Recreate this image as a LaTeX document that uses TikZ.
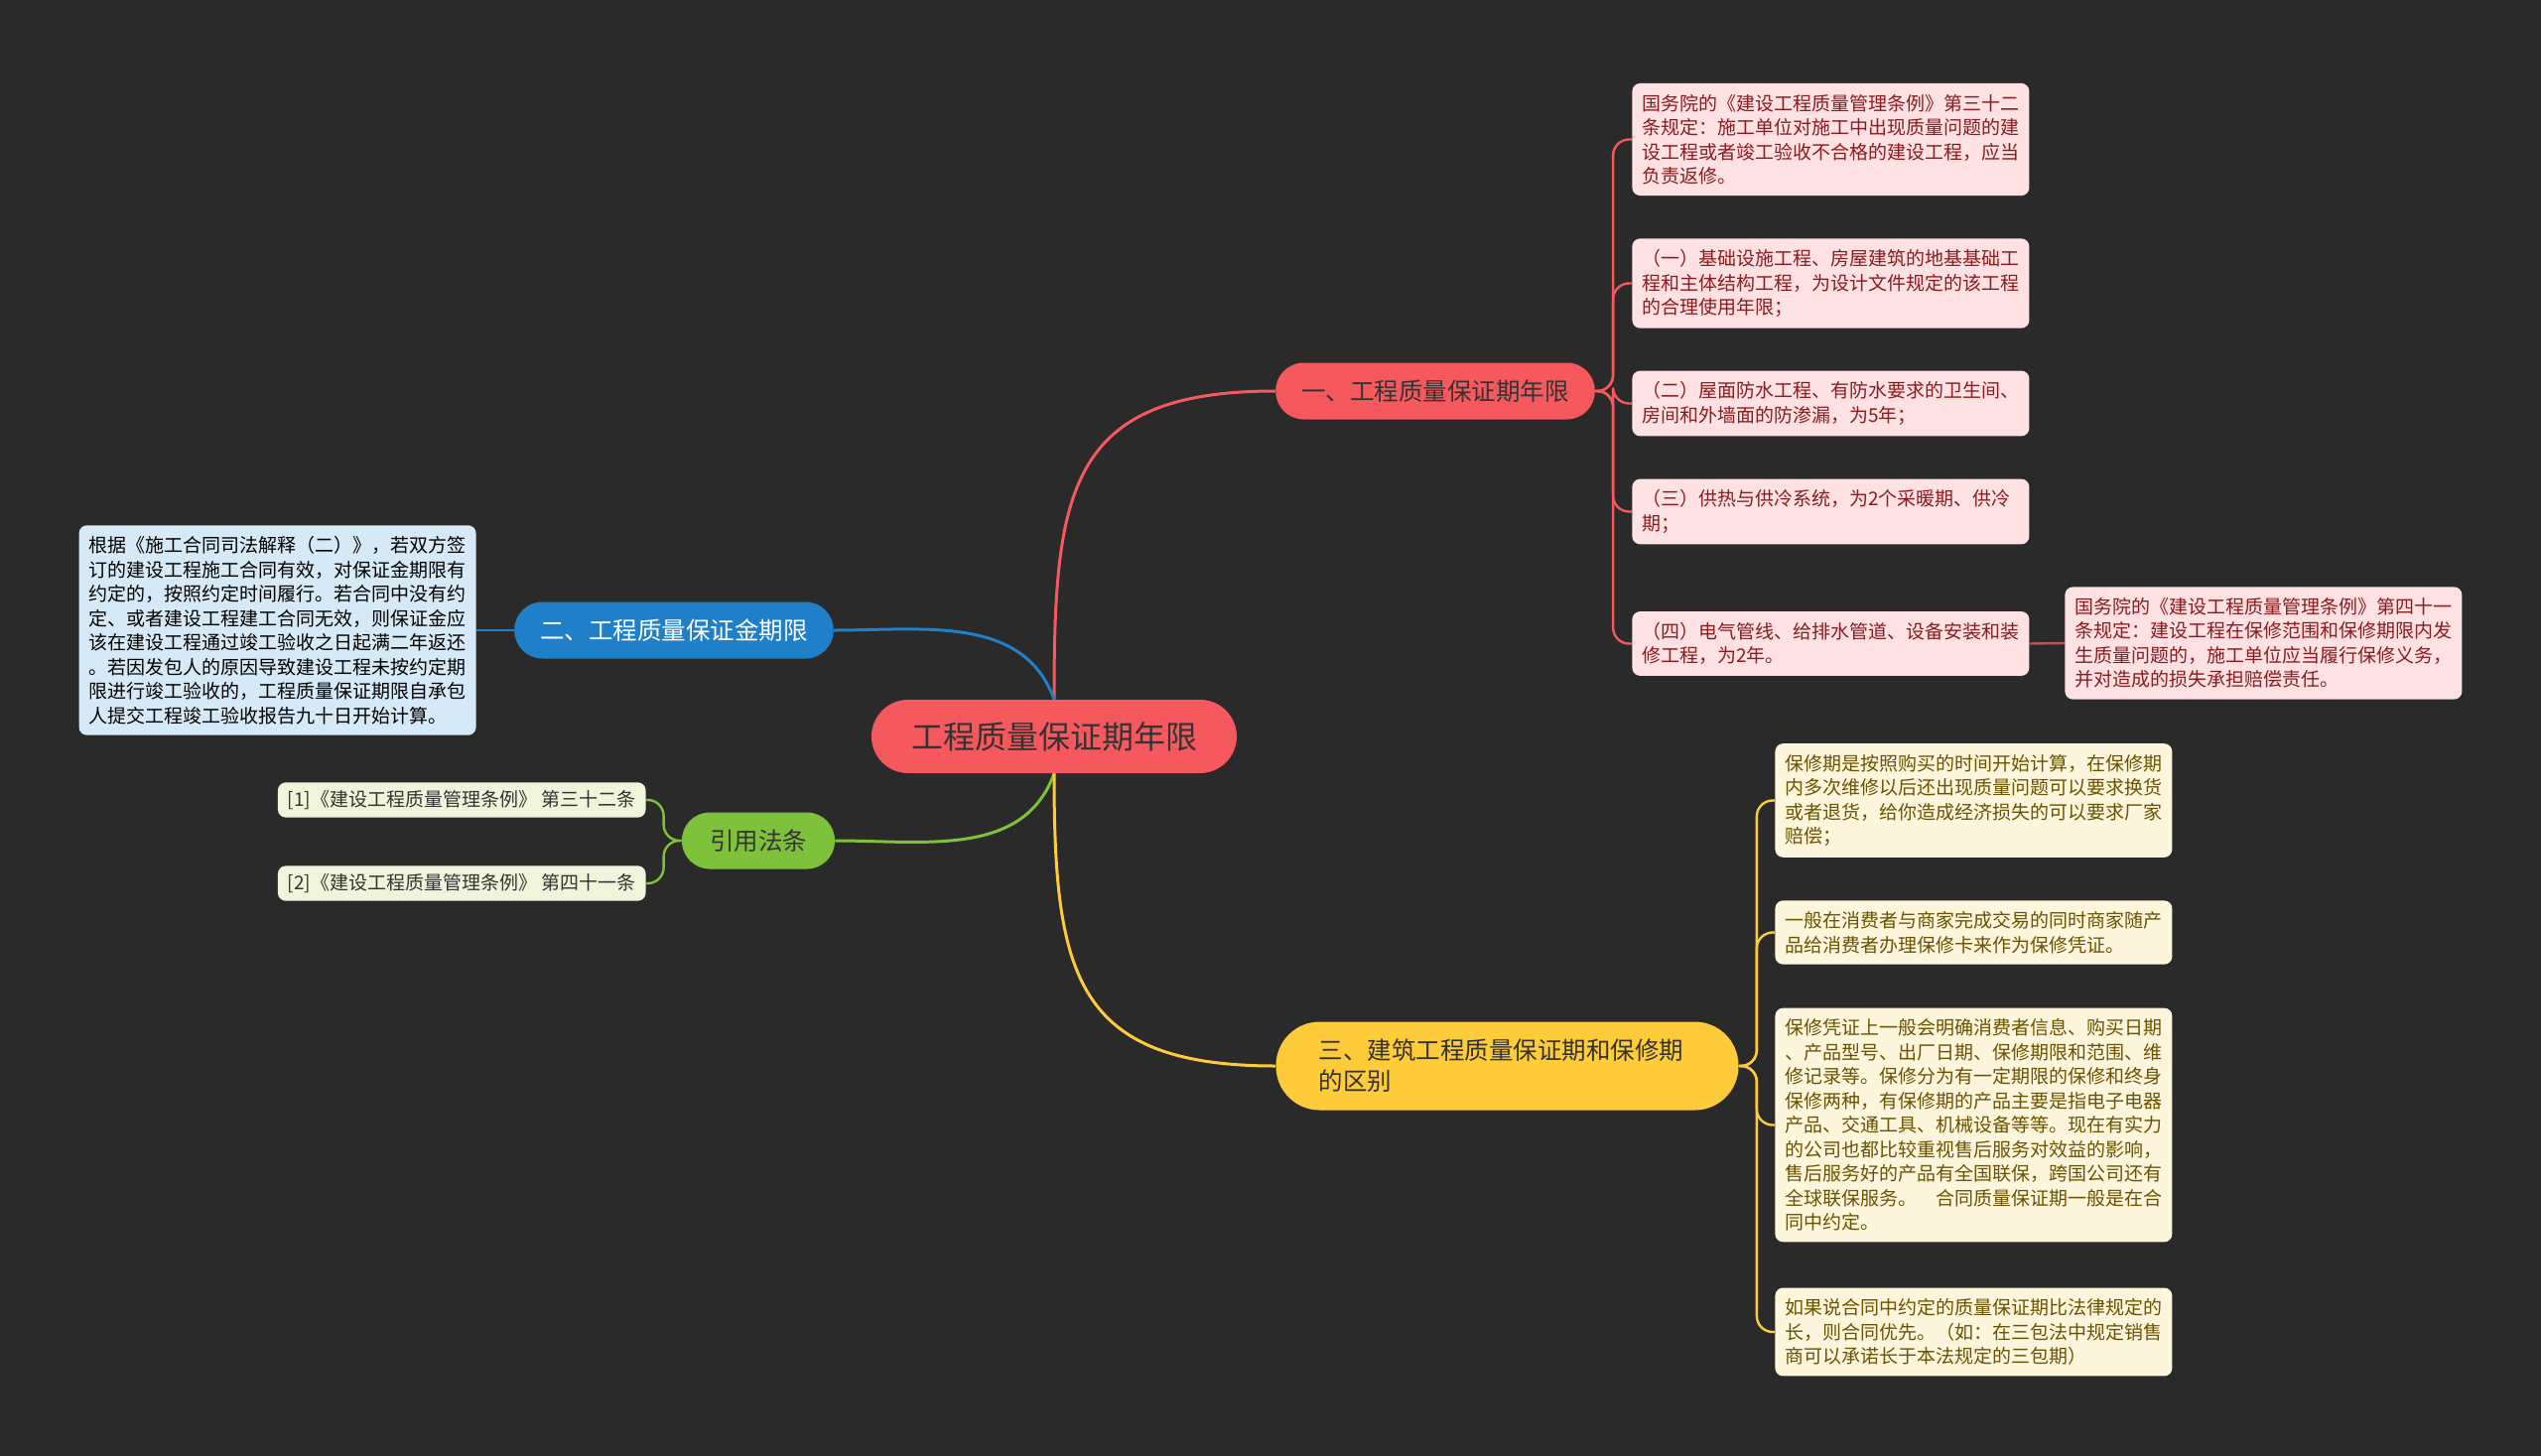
\documentclass[tikz,border=0pt]{standalone}
\usepackage{fontspec}
\setmainfont{Noto Sans CJK SC}
\usepackage{tikz}
\usetikzlibrary{positioning}

\definecolor{bgdark}{HTML}{2A2A2A}
\definecolor{redmain}{HTML}{F5585D}
\definecolor{pinkfill}{HTML}{FDE1E3}
\definecolor{pinktext}{HTML}{8A1B1E}
\definecolor{bluemain}{HTML}{1F7FC8}
\definecolor{bluefill}{HTML}{D6E9F7}
\definecolor{greenmain}{HTML}{7DC23A}
\definecolor{greenfill}{HTML}{EEF5DA}
\definecolor{yellowmain}{HTML}{FECB3A}
\definecolor{yellowfill}{HTML}{FDF6DD}
\definecolor{yellowtext}{HTML}{6B5200}
\definecolor{darktext}{HTML}{333333}

\begin{document}
\begin{tikzpicture}[x=0.5pt, y=-0.5pt,
			rootnode/.style={fill=redmain, text=darktext, rounded corners=18.5pt,
				minimum height=37pt, inner xsep=20pt, font=\fontsize{16}{20}\selectfont},
			branch/.style={rounded corners=14pt, minimum height=28.5pt, inner xsep=13pt,
				font=\fontsize{12.25}{15.5}\selectfont},
			leaf/.style={rounded corners=4pt, text width=190pt, align=left,
				inner xsep=5pt, inner ysep=5.5pt, font=\fontsize{9.5}{12.25}\selectfont},
			redleaf/.style={leaf, fill=pinkfill, text=pinktext},
			yellowleaf/.style={leaf, fill=yellowfill, text=yellowtext},
			link/.style={line width=1.5pt},
			twig/.style={line width=1.2pt, rounded corners=8pt}]
			
			\useasboundingbox (0,0) rectangle (2560,1467);
			\fill[bgdark] (0,0) rectangle (2560,1467);
			
			% centre and main branches
			\node[rootnode] (root) at (1062,742) {工程质量保证期年限};
			\node[branch, fill=redmain, text=darktext] (b1) at (1446,394) {一、工程质量保证期年限};
			\node[branch, fill=bluemain, text=white] (b2) at (679,635) {二、工程质量保证金期限};
			\node[branch, fill=greenmain, text=darktext, inner xsep=14pt] (cite) at (764,847) {引用法条};
			\node[branch, fill=yellowmain, text=darktext, rounded corners=22pt, minimum height=44.5pt,
				text width=190pt, align=left, inner xsep=21.5pt] (b3) at (1518.5,1074)
				{三、建筑工程质量保证期和保修期\\的区别};
			
			% first branch
			\node[redleaf, anchor=west] (l1) at (1644,140.5) {国务院的《建设工程质量管理条例》第三十二\\条规定：施工单位对施工中出现质量问题的建\\设工程或者竣工验收不合格的建设工程，应当\\负责返修。};
			\node[redleaf, anchor=west] (l2) at (1644,285.5) {（一）基础设施工程、房屋建筑的地基基础工\\程和主体结构工程，为设计文件规定的该工程\\的合理使用年限；};
			\node[redleaf, anchor=west] (l3) at (1644,406.5) {（二）屋面防水工程、有防水要求的卫生间、\\房间和外墙面的防渗漏，为5年；};
			\node[redleaf, anchor=west] (l4) at (1644,515.5) {（三）供热与供冷系统，为2个采暖期、供冷\\期；};
			\node[redleaf, anchor=west] (l5) at (1644,648.5) {（四）电气管线、给排水管道、设备安装和装\\修工程，为2年。};
			\node[redleaf, anchor=west] (l5c) at (2080,648) {国务院的《建设工程质量管理条例》第四十一\\条规定：建设工程在保修范围和保修期限内发\\生质量问题的，施工单位应当履行保修义务，\\并对造成的损失承担赔偿责任。};
			
			% second branch
			\node[leaf, fill=bluefill, text=black, anchor=east] (bl) at (480,635) {根据《施工合同司法解释（二）》，若双方签\\订的建设工程施工合同有效，对保证金期限有\\约定的，按照约定时间履行。若合同中没有约\\定、或者建设工程建工合同无效，则保证金应\\该在建设工程通过竣工验收之日起满二年返还\\。若因发包人的原因导致建设工程未按约定期\\限进行竣工验收的，工程质量保证期限自承包\\人提交工程竣工验收报告九十日开始计算。};
			
			% citations
			\node[leaf, fill=greenfill, text=darktext, text width=, anchor=east, inner ysep=4pt] (g1) at (651,806) {[1]《建设工程质量管理条例》 第三十二条};
			\node[leaf, fill=greenfill, text=darktext, text width=, anchor=east, inner ysep=4pt] (g2) at (651,890) {[2]《建设工程质量管理条例》 第四十一条};
			
			% third branch
			\node[yellowleaf, anchor=west] (y1) at (1788,806.5) {保修期是按照购买的时间开始计算，在保修期\\内多次维修以后还出现质量问题可以要求换货\\或者退货，给你造成经济损失的可以要求厂家\\赔偿；};
			\node[yellowleaf, anchor=west] (y2) at (1788,939.5) {一般在消费者与商家完成交易的同时商家随产\\品给消费者办理保修卡来作为保修凭证。};
			\node[yellowleaf, anchor=west] (y3) at (1788,1133.5) {保修凭证上一般会明确消费者信息、购买日期\\、产品型号、出厂日期、保修期限和范围、维\\修记录等。保修分为有一定期限的保修和终身\\保修两种，有保修期的产品主要是指电子电器\\产品、交通工具、机械设备等等。现在有实力\\的公司也都比较重视售后服务对效益的影响，\\售后服务好的产品有全国联保，跨国公司还有\\全球联保服务。\hspace*{1em}合同质量保证期一般是在合\\同中约定。};
			\node[yellowleaf, anchor=west] (y4) at (1788,1342) {如果说合同中约定的质量保证期比法律规定的\\长，则合同优先。（如：在三包法中规定销售\\商可以承诺长于本法规定的三包期）};
			
			% connectors
			\draw[link, redmain] (root.north) to[out=90, in=180, looseness=1.4] (b1.west);
			\draw[link, bluemain] (root.north) to[out=110, in=0] (b2.east);
			\draw[link, greenmain] (root.south) to[out=-110, in=0] (cite.east);
			\draw[link, yellowmain] (root.south) to[out=-90, in=180, looseness=1.4] (b3.west);
			
			\foreach \leafname in {l1,l2,l3,l4,l5}
				\draw[twig, redmain] (b1.east) -- ++(18,0) |- (\leafname.west);
			\draw[twig, redmain!85!black] (l5.east) -- (l5c.west);
			\draw[twig, bluemain] (b2.west) -- (bl.east);
			\foreach \leafname in {g1,g2}
				\draw[twig, greenmain] (cite.west) -- ++(-18,0) |- (\leafname.east);
			\foreach \leafname in {y1,y2,y3,y4}
				\draw[twig, yellowmain] (b3.east) -- ++(18,0) |- (\leafname.west);
			\end{tikzpicture}
\end{document}
